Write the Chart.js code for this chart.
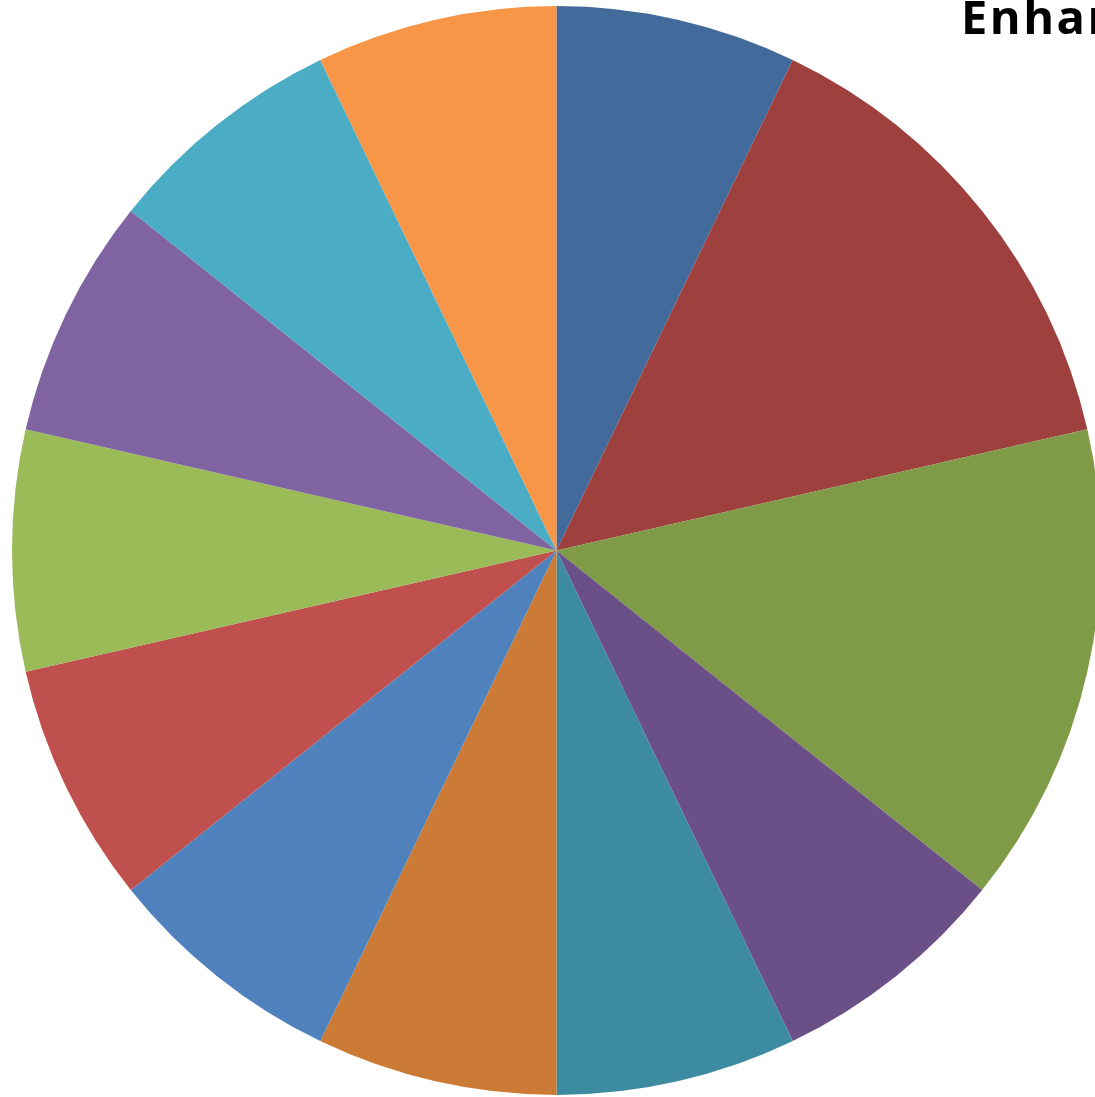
<!DOCTYPE html>
<html>
<head>
<meta charset="utf-8">
<script src="https://cdn.jsdelivr.net/npm/chart.js@4"></script>
<style>
  html, body { margin: 0; padding: 0; background: #fff; overflow: hidden; }
  #wrap { position: absolute; left: 0; top: 0; width: 1112px; height: 1100px; }
</style>
</head>
<body>
<div id="wrap"><canvas id="chartPie"></canvas></div>
<script>
// Datos del gráfico
const titulo = 'Enhancements';
const categorias = ['A', 'B', 'C', 'D', 'E', 'F', 'G', 'H', 'I', 'J', 'K', 'L'];
const valores = [1, 2, 2, 1, 1, 1, 1, 1, 1, 1, 1, 1];
const colores = ['#426A9A', '#9E413E', '#809B48', '#6A5087', '#3D8BA0', '#CB7B36',
                 '#4F81BD', '#C0504D', '#9BBB59', '#8064A2', '#4BACC6', '#F79646'];

// titulo cortado arriba a la derecha
const tituloPlugin = {
    id: 'tituloPlugin',
    afterDraw(chart) {
        const ctx = chart.ctx;
        ctx.save();
        ctx.font = "bold 47px 'Open Sans', sans-serif";
        ctx.letterSpacing = '2.5px';
        ctx.fillStyle = '#000';
        ctx.textBaseline = 'alphabetic';
        ctx.fillText(titulo, 961, 34);
        ctx.restore();
    }
};

const ctx = document.getElementById('chartPie').getContext('2d');
const chart = new Chart(ctx, {
    type: 'pie',
    data: {
        labels: categorias,
        datasets: [{
            data: valores,
            backgroundColor: colores,
            borderWidth: 0
        }]
    },
    options: {
        responsive: true,
        maintainAspectRatio: false,
        animation: false,
        layout: {
            padding: { left: 12, top: 6, right: 11, bottom: 5 }
        },
        plugins: {
            legend: { display: false },
            tooltip: { enabled: false },
            title: { display: false }
        }
    },
    plugins: [tituloPlugin]
});
</script>
</body>
</html>
